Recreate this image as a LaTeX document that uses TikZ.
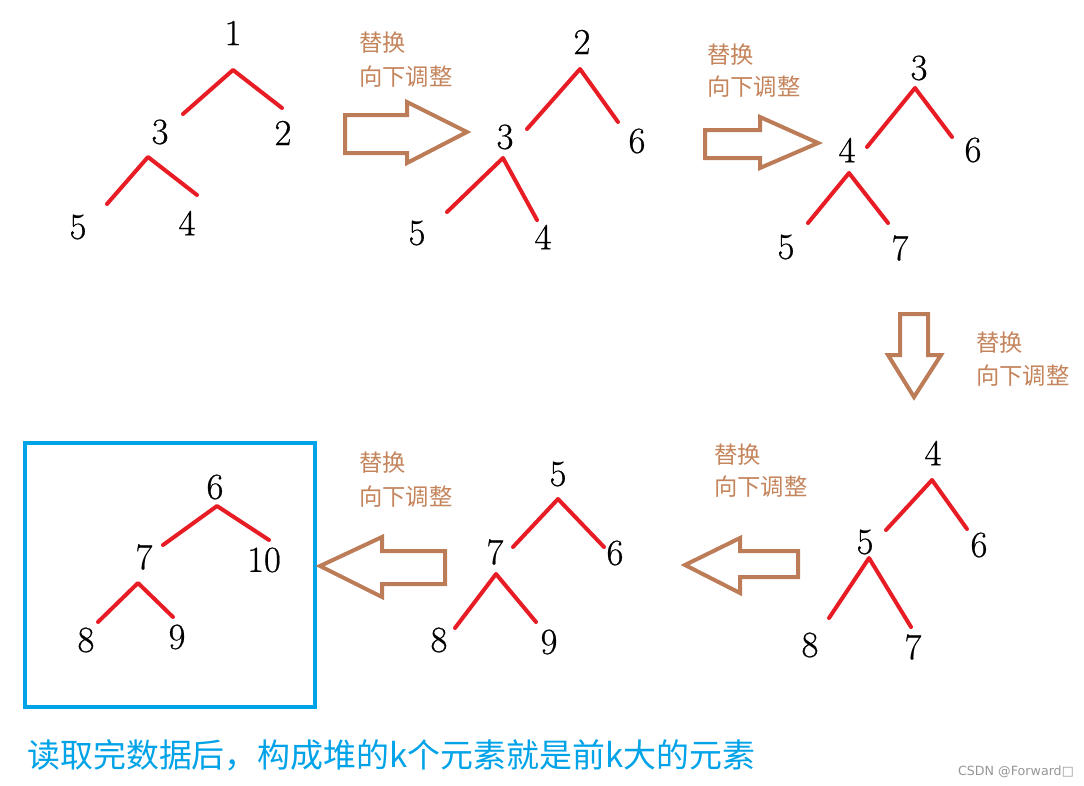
\documentclass[tikz,border=0pt]{standalone}
\usepackage{fontspec}
\newfontfamily\cjk{Noto Sans CJK SC}
\newfontfamily\wmfont{DejaVu Sans}
\newfontfamily\numfont[FakeBold=0.6]{Latin Modern Roman}
\definecolor{edgered}{RGB}{232,28,36}
\definecolor{arrowbrown}{RGB}{188,124,88}
\definecolor{labelbrown}{RGB}{196,132,92}
\definecolor{boxblue}{RGB}{0,162,232}
\definecolor{wmgray}{RGB}{150,150,150}
\tikzset{
  num/.style={inner sep=0pt, font=\numfont\fontsize{27.5}{30}\selectfont},
  edge/.style={draw=edgered, line width=3pt, line cap=round, line join=round},
  barrow/.style={draw=arrowbrown, line width=3pt, line join=miter, fill=white},
  lbl/.style={anchor=west, inner sep=0pt, text=labelbrown, font=\cjk\fontsize{17.5}{20}\selectfont},
}
\begin{document}
\begin{tikzpicture}[x=0.75pt, y=-0.75pt]
\useasboundingbox (0,0) rectangle (1084,785);

% ---------- Tree 1 ----------
\node[num] (t1a) at (233,33) {1};
\node[num] (t1b) at (160,132) {3};
\node[num] (t1c) at (283,133) {2};
\node[num] (t1d) at (78,227) {5};
\node[num] (t1e) at (187,223) {4};
\coordinate (t1ap) at (233,70); \coordinate (t1al) at (183,114); \coordinate (t1ar) at (282,108);
\coordinate (t1bp) at (148,157); \coordinate (t1bl) at (107,204); \coordinate (t1br) at (197,195);
\draw[edge] (t1al) -- (t1ap) -- (t1ar);
\draw[edge] (t1bl) -- (t1bp) -- (t1br);

% ---------- Tree 2 ----------
\node[num] (t2a) at (582,42) {2};
\node[num] (t2b) at (505,137) {3};
\node[num] (t2c) at (637,141) {6};
\node[num] (t2d) at (417,233) {5};
\node[num] (t2e) at (543,237) {4};
\coordinate (t2ap) at (580,69); \coordinate (t2al) at (527,129); \coordinate (t2ar) at (618,122);
\coordinate (t2bp) at (503,158); \coordinate (t2bl) at (447,212); \coordinate (t2br) at (537,220);
\draw[edge] (t2al) -- (t2ap) -- (t2ar);
\draw[edge] (t2bl) -- (t2bp) -- (t2br);

% ---------- Tree 3 ----------
\node[num] (t3a) at (919,68) {3};
\node[num] (t3b) at (847,150) {4};
\node[num] (t3c) at (973,150) {6};
\node[num] (t3d) at (786,247) {5};
\node[num] (t3e) at (900,248) {7};
\coordinate (t3ap) at (915,88); \coordinate (t3al) at (867,147); \coordinate (t3ar) at (952,137);
\coordinate (t3bp) at (849,173); \coordinate (t3bl) at (808,223); \coordinate (t3br) at (888,223);
\draw[edge] (t3al) -- (t3ap) -- (t3ar);
\draw[edge] (t3bl) -- (t3bp) -- (t3br);

% ---------- Tree 4 ----------
\node[num] (t4a) at (933,453) {4};
\node[num] (t4b) at (865,542) {5};
\node[num] (t4c) at (979,545) {6};
\node[num] (t4d) at (810,645) {8};
\node[num] (t4e) at (913,647) {7};
\coordinate (t4ap) at (932,480); \coordinate (t4al) at (886,530); \coordinate (t4ar) at (967,529);
\coordinate (t4bp) at (869,558); \coordinate (t4bl) at (829,618); \coordinate (t4br) at (911,627);
\draw[edge] (t4al) -- (t4ap) -- (t4ar);
\draw[edge] (t4bl) -- (t4bp) -- (t4br);

% ---------- Tree 5 ----------
\node[num] (t5a) at (558,474) {5};
\node[num] (t5b) at (495,552) {7};
\node[num] (t5c) at (615,553) {6};
\node[num] (t5d) at (439,640) {8};
\node[num] (t5e) at (549,642) {9};
\coordinate (t5ap) at (558,499); \coordinate (t5al) at (513,547); \coordinate (t5ar) at (604,547);
\coordinate (t5bp) at (496,574); \coordinate (t5bl) at (455,628); \coordinate (t5br) at (536,622);
\draw[edge] (t5al) -- (t5ap) -- (t5ar);
\draw[edge] (t5bl) -- (t5bp) -- (t5br);

% ---------- Tree 6 (result) ----------
\draw[draw=boxblue, line width=3pt] (25,443) rectangle (315,707);
\node[num] (t6a) at (215,487) {6};
\node[num] (t6b) at (144,557) {7};
\node[num] (t6c) at (264,560) {10};
\node[num] (t6d) at (86,640) {8};
\node[num] (t6e) at (177,637) {9};
\coordinate (t6ap) at (217,506); \coordinate (t6al) at (163,545); \coordinate (t6ar) at (269,540);
\coordinate (t6bp) at (138,583); \coordinate (t6bl) at (98,622); \coordinate (t6br) at (173,617);
\draw[edge] (t6al) -- (t6ap) -- (t6ar);
\draw[edge] (t6bl) -- (t6bp) -- (t6br);

% ---------- Block arrows ----------
% arrow 1 (right)
\draw[barrow] (345,115) -- (407,115) -- (407,102) -- (467,132) -- (407,163) -- (407,153) -- (345,153) -- cycle;
% arrow 2 (right)
\draw[barrow] (705,130) -- (760,130) -- (760,117) -- (818,143) -- (760,168) -- (760,158) -- (705,158) -- cycle;
% arrow 3 (down)
\draw[barrow] (900,314) -- (928,314) -- (928,355) -- (941,355) -- (914,397) -- (888,355) -- (900,355) -- cycle;
% arrow 4 (left)
\draw[barrow] (798,551) -- (740,551) -- (740,538) -- (685,565) -- (740,593) -- (740,577) -- (798,577) -- cycle;
% arrow 5 (left)
\draw[barrow] (445,551) -- (382,551) -- (382,537) -- (320,566) -- (382,597) -- (382,584) -- (445,584) -- cycle;

% ---------- Labels ----------
\node[lbl] (l1a) at (359,43) {替换};
\node[lbl] (l1b) at (359,77) {向下调整};
\node[lbl] (l2a) at (707,55) {替换};
\node[lbl] (l2b) at (707,87) {向下调整};
\node[lbl] (l3a) at (976,343) {替换};
\node[lbl] (l3b) at (976,376) {向下调整};
\node[lbl] (l4a) at (714,455) {替换};
\node[lbl] (l4b) at (714,487) {向下调整};
\node[lbl] (l5a) at (359,463) {替换};
\node[lbl] (l5b) at (359,497) {向下调整};

% ---------- Bottom text ----------
\node[anchor=west, inner sep=0pt, text=boxblue, font=\cjk\fontsize{24.7}{28}\selectfont] (concl) at (27,755) {读取完数据后，构成堆的k个元素就是前k大的元素};
\node[anchor=east, inner sep=0pt, text=wmgray, font=\wmfont\fontsize{9.5}{11}\selectfont] (wm) at (1074,772) {CSDN @Forward□};
\end{tikzpicture}
\end{document}
